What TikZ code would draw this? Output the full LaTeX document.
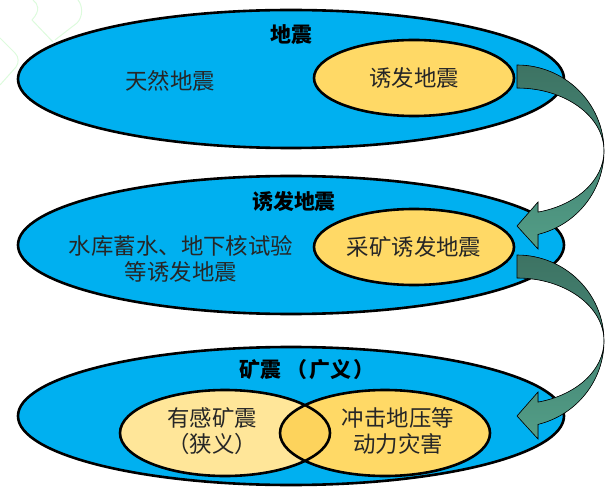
\documentclass[tikz,border=0pt]{standalone}
\usepackage{fontspec}
\setmainfont{Noto Sans CJK SC}
\usepackage{xcolor}
\usepackage{tikz}
\usetikzlibrary{shapes.geometric,positioning}
\definecolor{skyblue}{HTML}{00B0F0}
\definecolor{sand}{HTML}{FFD966}
\definecolor{feltcol}{HTML}{FFE699}
\definecolor{bothcol}{HTML}{FDD35C}
\definecolor{ink}{HTML}{262626}
\definecolor{arrowdark}{HTML}{3D7363}
\definecolor{arrowmid}{HTML}{458574}
\definecolor{arrowlight}{HTML}{539E87}
\definecolor{mint}{HTML}{DDFBDD}

\begin{document}
\begin{tikzpicture}[x=1bp,y=-1bp,
    outer/.style={ellipse,draw,line width=2.6bp,fill=skyblue,minimum width=546bp,minimum height=138bp,inner sep=0pt},
    inner/.style={ellipse,draw,line width=2.6bp,fill=sand,minimum width=200bp,minimum height=76bp,inner sep=0pt,font=\fontsize{22.5}{26}\selectfont,text=ink},
    venn/.style={ellipse,minimum width=210bp,minimum height=86bp,inner sep=0pt},
    title/.style={font=\fontsize{21}{25}\selectfont\bfseries},
    body/.style={font=\fontsize{22.5}{26}\selectfont,text=ink,align=center},
    pics/bentarrow/.style={code={
        \filldraw[draw=black,line width=0.6bp,top color=arrowdark,bottom color=arrowmid]
            (0,0) .. controls (48,0) and (87,38.5) .. (87,86)
            .. controls (87,51.2) and (48,23) .. (0,23) -- cycle;
        \filldraw[draw=black,line width=0.6bp,top color=arrowmid,bottom color=arrowlight]
            (87,86) .. controls (87,125.5) and (59.7,159.9) .. (21,169.4)
            -- (21,184) -- (0,161) -- (21,137) -- (21,147.1)
            .. controls (59.7,140.1) and (87,114.9) .. (87,86) -- cycle;
    }}]
    \useasboundingbox (0,0) rectangle (609,488);
    \draw[mint,line width=1bp] (0,38) -- (15,53) .. controls (19,57) and (19,63) .. (16,67) -- (0,85);
    \draw[mint,line width=1bp] (33,0) .. controls (38,4) and (41,10) .. (32,20) -- (53,42);
    \draw[mint,line width=1bp] (78,0) .. controls (83,6) and (83,17) .. (77,23) -- (55,40);

    \node[outer] (quake) at (291,79) {};
    \node[outer] (induced) at (291,245) {};
    \node[outer] (mining) at (291,416) {};

    \node[title] (qtitle) at (291,35) {地震};
    \node[body] (natural) at (170,81) {天然地震};
    \node[inner] (ind) at (414,78) {诱发地震};

    \node[title] (itile) at (294,202) {诱发地震};
    \node[body] (other) at (181,259) {水库蓄水、地下核试验\\等诱发地震};
    \node[inner] (mine) at (414,247) {采矿诱发地震};

    \node[title] (mtitle) at (309,370) {矿震\kern5bp（\kern2bp 广义\kern2bp）\kern4bp};
    \node[venn,fill=sand] (burst) at (385,433) {};
    \node[venn,fill=feltcol] (felt) at (225,433) {};
    \begin{scope}
        \clip (felt.center) ellipse [x radius=105,y radius=43];
        \fill[bothcol] (burst.center) ellipse [x radius=105,y radius=43];
    \end{scope}
    \draw[line width=2.6bp] (felt.center) ellipse [x radius=105,y radius=43]
        (burst.center) ellipse [x radius=105,y radius=43];
    \node[body] (narrow) at (212,431) {有感矿震\\（狭义）};
    \node[body] (hazard) at (398,431) {冲击地压等\\动力灾害};

    \coordinate (tail1) at (517,65);
    \coordinate (tail2) at (517,255);
    \pic at (tail1) {bentarrow};
    \pic at (tail2) {bentarrow};
\end{tikzpicture}
\end{document}
